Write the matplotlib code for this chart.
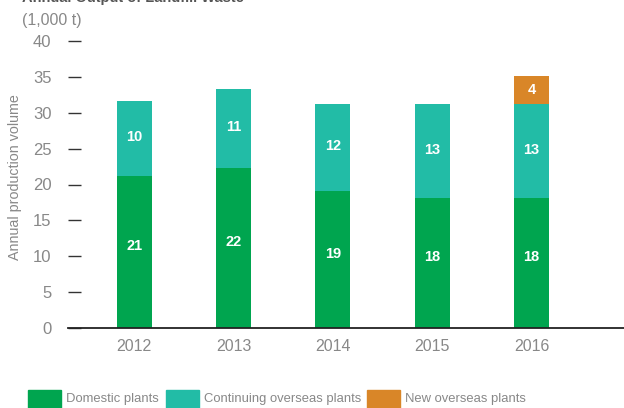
import matplotlib.pyplot as plt
from matplotlib.patches import Rectangle

years = ["2012", "2013", "2014", "2015", "2016"]
domestic = [21.2, 22.3, 19.1, 18.1, 18.1]
continuing = [10.4, 11.0, 12.1, 13.1, 13.1]
new_overseas = [0, 0, 0, 0, 3.9]
domestic_lbl = ["21", "22", "19", "18", "18"]
continuing_lbl = ["10", "11", "12", "13", "13"]
new_lbl = ["", "", "", "", "4"]
series_names = ["Domestic plants", "Continuing overseas plants", "New overseas plants"]
colors = ["#00a54f", "#22bca6", "#d98628"]

plt.rcParams['font.family'] = ['Liberation Sans', 'DejaVu Sans']

fig = plt.figure(figsize=(6.24, 4.08), dpi=100)
ax = fig.add_axes([68 / 624, 1 - 328 / 408, 1 - 68 / 624 + 0.02, 287 / 408])

x = list(range(len(years)))
w = 0.352
b1 = ax.bar(x, domestic, w, color=colors[0])
b2 = ax.bar(x, continuing, w, bottom=domestic, color=colors[1])
bottom3 = [d + c for d, c in zip(domestic, continuing)]
b3 = ax.bar(x, new_overseas, w, bottom=bottom3, color=colors[2])

# labels inside segments (domestic ones sit a little above the middle)
for bars, labels, dy in ((b1, domestic_lbl, 0.8), (b2, continuing_lbl, 0.2), (b3, new_lbl, 0)):
    for r, t in zip(bars, labels):
        if t:
            ax.text(r.get_x() + r.get_width() / 2, r.get_y() + r.get_height() / 2 + dy, t,
                    ha="center", va="center", color="white", fontsize=10.5, fontweight="bold")

ax.set_xlim(-0.665, 4.93 + 0.02 * 624 / 99.3 / (1 - 68 / 624) * (1 - 68 / 624))
ax.set_ylim(0, 40)
ax.set_yticks(range(0, 41, 5))
ax.set_xticks(x)
ax.set_xticklabels(years)
for s in ["top", "right", "left"]:
    ax.spines[s].set_visible(False)
ax.spines["bottom"].set_color("#222222")
ax.spines["bottom"].set_linewidth(1.3)
ax.tick_params(axis="y", direction="in", length=9, width=1, color="#333333",
               labelcolor="#888888", labelsize=12, pad=12)
ax.tick_params(axis="x", length=0, labelcolor="#888888", labelsize=11.5, pad=8)

fig.text(15 / 624, 1 - 177 / 408, "Annual production volume", rotation=90,
         ha="center", va="center", color="#888888", fontsize=10.3)
fig.text(22 / 624, 1 - 20 / 408, "(1,000 t)", ha="left", va="center", color="#888888", fontsize=11.5)
fig.text(22 / 624, 1 + 2 / 408, "Annual Output of Landfill Waste", ha="left", va="center",
         color="#555555", fontsize=10.5, fontweight="bold")

# legend
box_x = [28, 166, 367]
txt_x = [66, 204, 405]
for name, c, bx, tx in zip(series_names, colors, box_x, txt_x):
    fig.patches.append(Rectangle((bx / 624, 0), 33 / 624, 18 / 408,
                                 transform=fig.transFigure, color=c))
    fig.text(tx / 624, 1 - 399 / 408, name, ha="left", va="center", color="#888888", fontsize=9.4)

plt.savefig("out.png", dpi=100)
